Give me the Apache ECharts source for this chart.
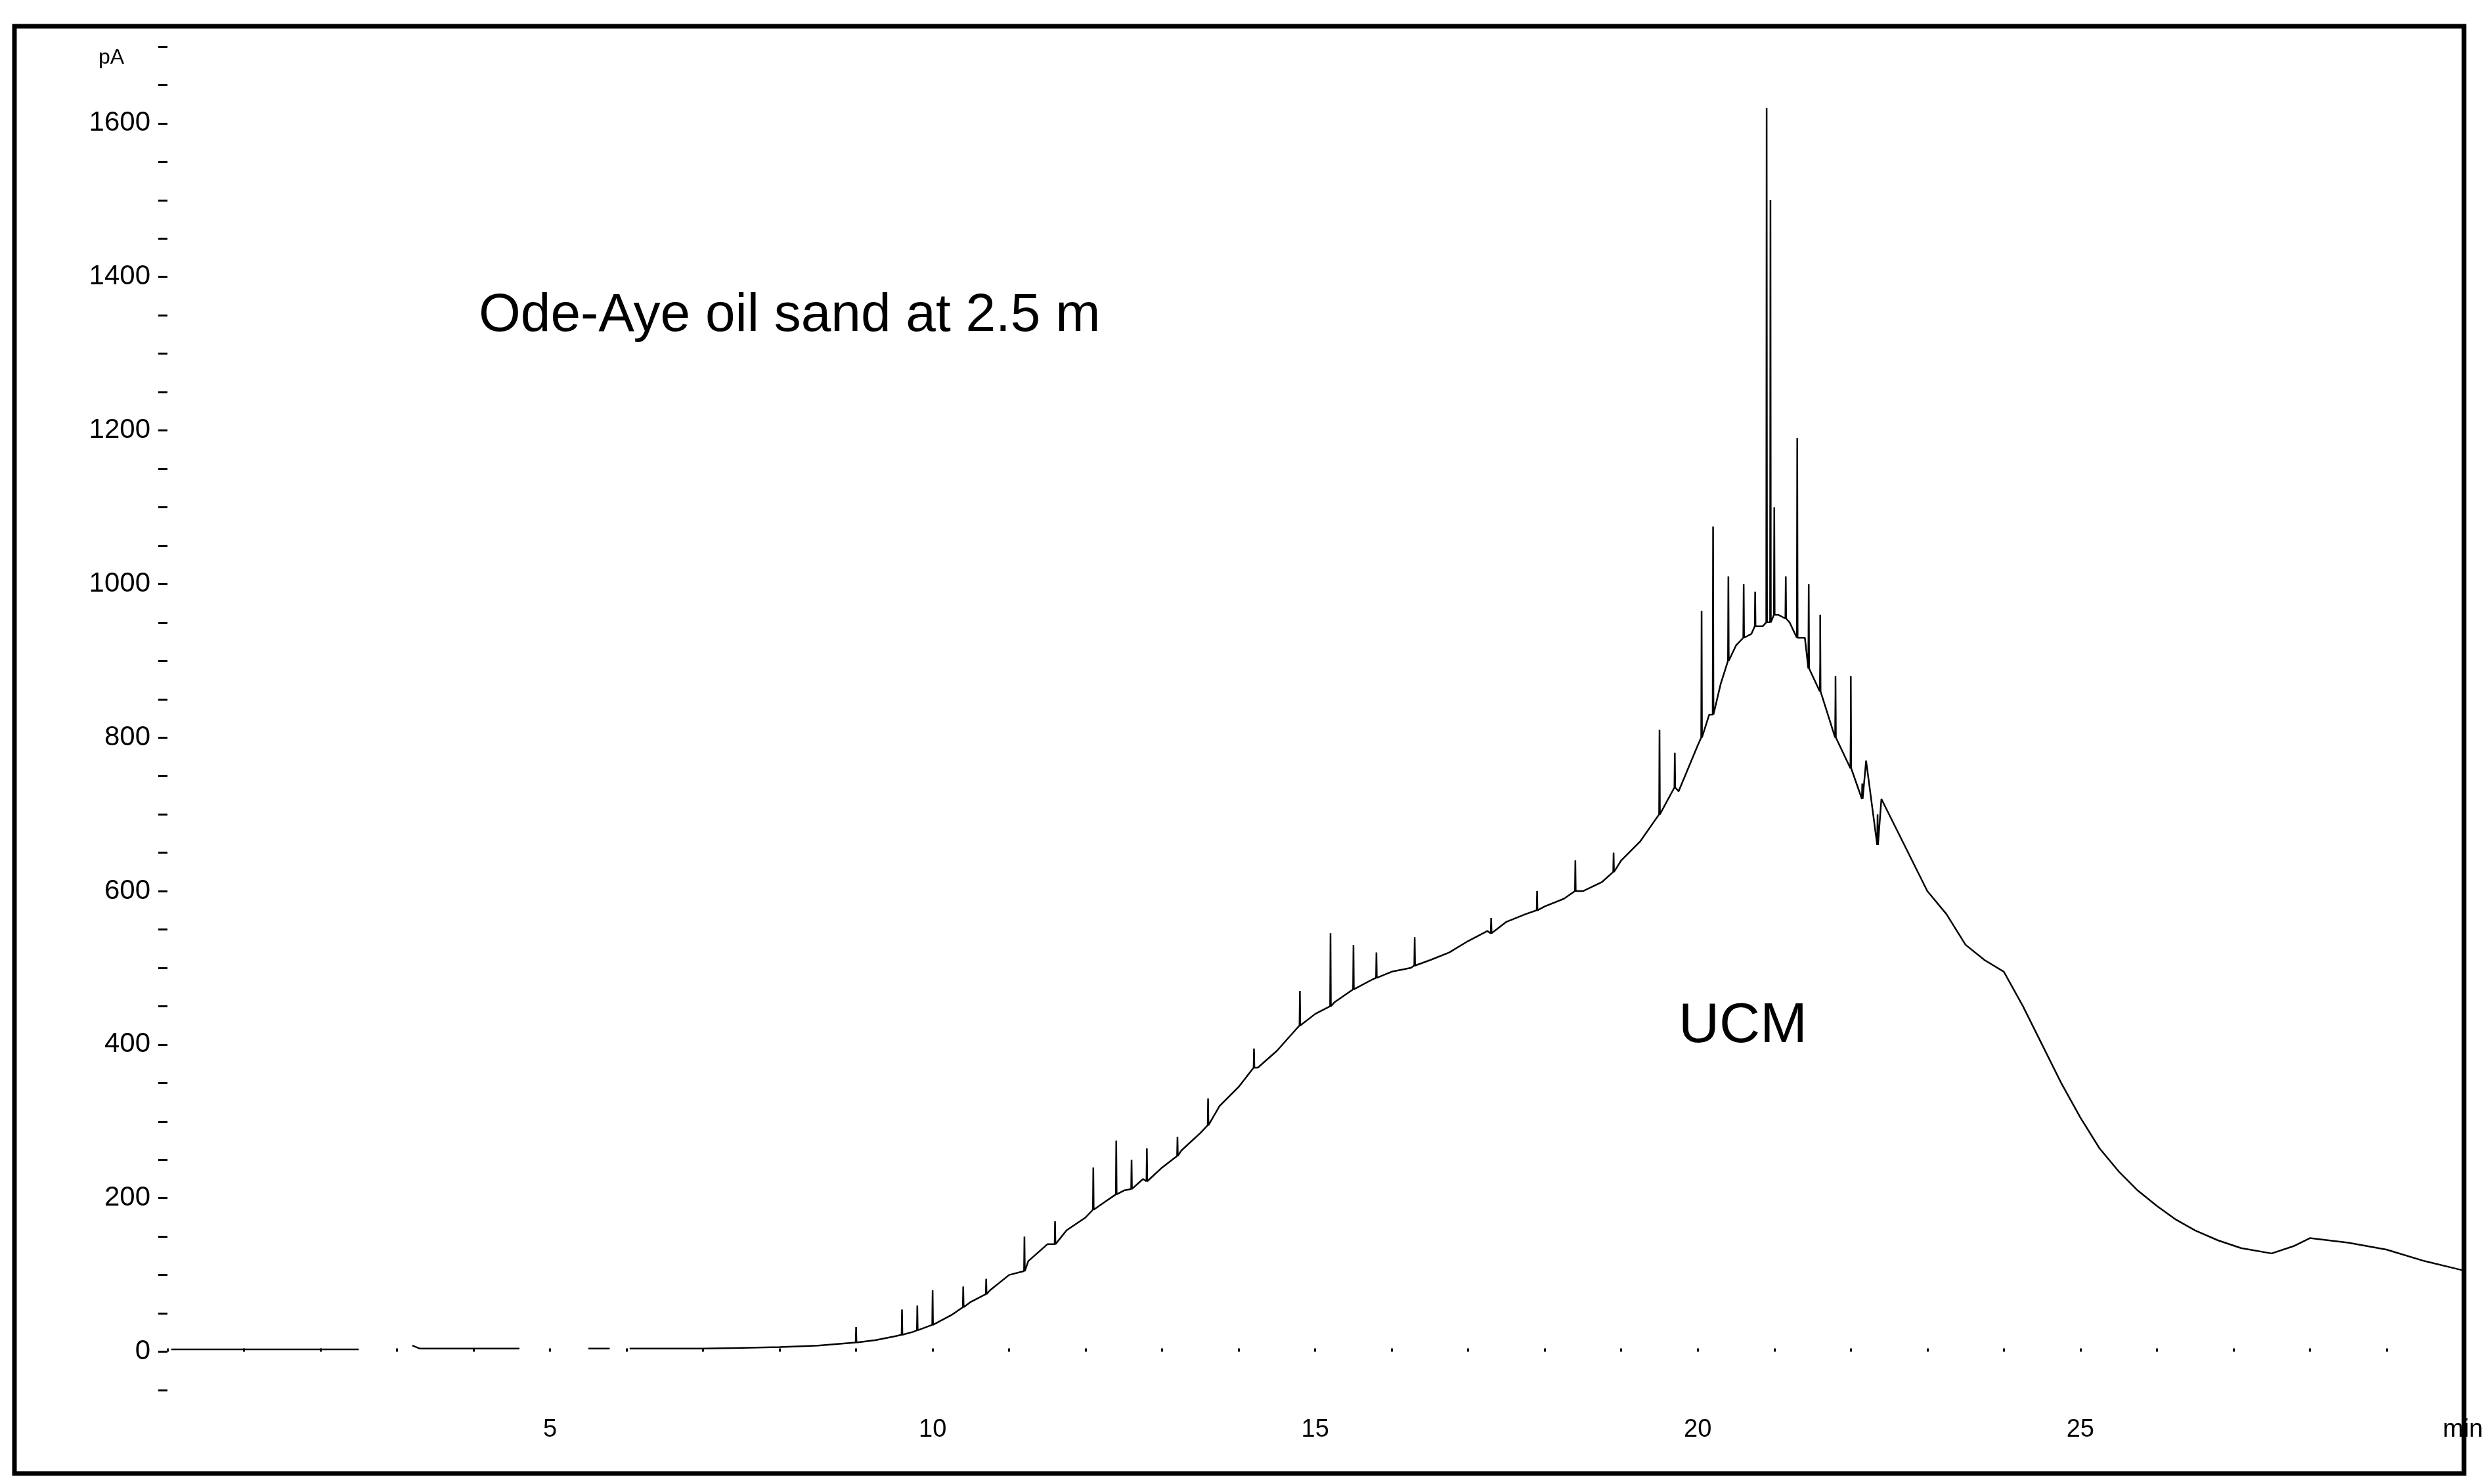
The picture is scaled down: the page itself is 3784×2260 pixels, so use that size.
<!DOCTYPE html>
<html>
<head>
<meta charset="utf-8">
<script src="https://cdn.jsdelivr.net/npm/echarts@6/dist/echarts.min.js"></script>
<style>html,body{margin:0;background:#fff}#main{width:3784px;height:2260px}</style>
</head>
<body>
<div id="main"></div>
<script>
// retention time (min) and signal (pA) of the smooth envelope; null = gap in trace
var baseT = [0.05,0.5,1,1.5,2,2.5,2.52,3.15,3.2,3.3,3.5,4,4.6,4.62,5.46,5.5,5.78,5.8,6.04,6.5,7,7.5,8,8.5,9,9.25,9.5,9.75,10,10.25,10.5,10.75,11,11.25,11.5,11.75,12,12.25,12.5,12.75,13,13.25,13.5,13.75,14,14.25,14.5,14.75,15,15.25,15.5,15.75,16,16.25,16.5,16.75,17,17.25,17.5,17.75,18,18.25,18.5,18.75,19,19.25,19.5,19.75,20,20.15,20.3,20.5,20.7,20.85,21.05,21.2,21.4,21.6,21.8,22,22.2,22.4,22.6,22.8,23,23.25,23.5,23.75,24,24.25,24.5,24.75,25,25.25,25.5,25.75,26,26.25,26.5,26.8,27.1,27.5,27.8,28,28.5,29,29.5,30];
var baseV = [3,3,3,3,3,3,null,null,8,4,4,4,4,null,null,4,4,null,4,4,4,5,6,8,12,15,20,26,35,48,65,80,100,118,140,158,175,195,210,225,240,262,285,320,345,370,392,420,440,455,472,485,495,500,510,520,535,548,560,570,580,590,600,612,640,665,700,730,790,830,870,920,935,945,960,950,930,900,860,820,770,720,680,640,600,570,530,510,495,450,400,350,305,265,235,210,190,172,158,145,135,128,138,148,142,133,118,106,95,82];
// narrow peaks: time, foot, apex
var spikeT = [9.0,9.6,9.8,10.0,10.4,10.7,11.2,11.6,12.1,12.4,12.6,12.8,13.2,13.6,14.2,14.8,15.2,15.5,15.8,16.3,17.3,17.9,18.4,18.9,19.5,19.7,20.05,20.2,20.4,20.6,20.75,20.9,20.95,21.0,21.15,21.3,21.45,21.6,21.8,22.0,22.15,22.35];
var spikeLo = [12,22,28,35,58,75,105,140,185,205,212,222,255,295,370,425,450,472,487,503,545,575,600,625,700,735,800,830,900,930,945,950,950,960,955,930,890,860,800,760,720,660];
var spikeHi = [32,55,60,80,85,95,150,170,240,275,250,265,280,330,395,470,545,530,520,540,565,600,640,650,810,780,965,1075,1010,1000,990,1620,1500,1100,1010,1190,1000,960,880,880,740,700];

var data = [];
for (var i = 0; i < baseT.length; i++) data.push([baseT[i], baseV[i]]);
for (var k = 0; k < spikeT.length; k++) {
  data.push([spikeT[k] - 0.005, spikeLo[k]], [spikeT[k], spikeHi[k]], [spikeT[k] + 0.005, spikeLo[k]]);
}
data.sort(function (a, b) { return a[0] - b[0]; });

var chart = echarts.init(document.getElementById('main'));
var font = 'Liberation Sans';
chart.setOption({
  animation: false,
  backgroundColor: '#fff',
  grid: {left: 255, right: 29, top: 71, bottom: 143},
  xAxis: {
    type: 'value', min: 0, max: 30, interval: 1, offset: 28,
    axisLine: {show: false},
    axisTick: {show: true, length: 5, inside: true, lineStyle: {color: '#000', width: 3}},
    splitLine: {show: false},
    axisLabel: {
      fontFamily: font, fontSize: 38, color: '#000', margin: 14,
      formatter: function (v) { return v === 30 ? 'min' : (v % 5 === 0 && v > 0 ? String(v) : ''); }
    }
  },
  yAxis: {
    type: 'value', min: -50, max: 1700, interval: 50,
    axisLine: {show: false},
    axisTick: {show: true, length: 14, lineStyle: {color: '#000', width: 3}},
    splitLine: {show: false},
    axisLabel: {
      fontFamily: font, fontSize: 42, color: '#000', margin: 26,
      formatter: function (v) { return (v >= 0 && v <= 1600 && v % 200 === 0) ? String(v) : ''; }
    }
  },
  series: [{
    type: 'line', data: data, showSymbol: false, connectNulls: false,
    lineStyle: {color: '#000', width: 2.5}
  }],
  graphic: [
    {type: 'rect', shape: {x: 22, y: 40, width: 3730, height: 2204}, style: {fill: 'none', stroke: '#000', lineWidth: 7}},
    {type: 'text', left: 150, top: 72, style: {text: 'pA', fontFamily: font, fontSize: 32, fill: '#000'}},
    {type: 'text', left: 729, top: 440, style: {text: 'Ode-Aye oil sand at 2.5 m', fontFamily: font, fontSize: 82, fill: '#000'}},
    {type: 'text', left: 2556, top: 1520, style: {text: 'UCM', fontFamily: font, fontSize: 86, fill: '#000'}}
  ]
});
</script>
</body>
</html>
